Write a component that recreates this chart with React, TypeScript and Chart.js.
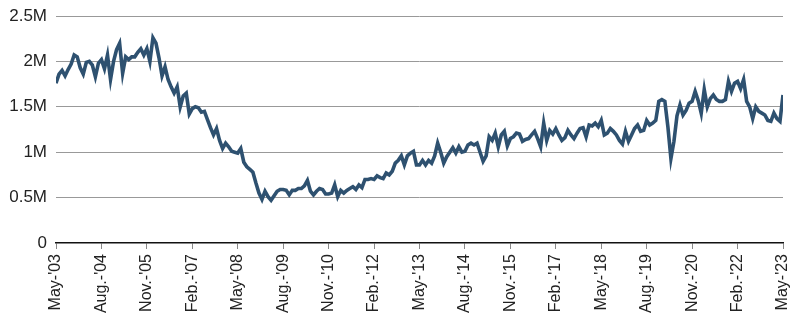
import React, { useEffect, useRef } from "react";
import { Chart, registerables } from "chart.js";

Chart.register(...registerables);

// Monthly values (millions), May 2003 – May 2023
const values: number[] = [
  1.76, 1.86, 1.90, 1.84, 1.91, 1.97, 2.07, 2.05, 1.93, 1.86,
  1.99, 2.00, 1.96, 1.83, 1.98, 2.02, 1.92, 2.07, 1.80, 2.00,
  2.13, 2.20, 1.87, 2.05, 2.02, 2.05, 2.05, 2.10, 2.14, 2.07,
  2.14, 2.00, 2.26, 2.20, 2.04, 1.84, 1.94, 1.80, 1.72, 1.65,
  1.72, 1.50, 1.62, 1.65, 1.42, 1.48, 1.50, 1.49, 1.44, 1.45,
  1.36, 1.27, 1.19, 1.26, 1.13, 1.04, 1.10, 1.06, 1.01, 1.00,
  0.99, 1.04, 0.89, 0.84, 0.81, 0.78, 0.66, 0.55, 0.48, 0.57,
  0.51, 0.47, 0.52, 0.57, 0.59, 0.59, 0.58, 0.53, 0.58, 0.58,
  0.60, 0.60, 0.63, 0.69, 0.57, 0.53, 0.57, 0.60, 0.59, 0.54,
  0.54, 0.55, 0.64, 0.51, 0.58, 0.55, 0.58, 0.60, 0.62, 0.59,
  0.64, 0.61, 0.70, 0.70, 0.71, 0.70, 0.74, 0.72, 0.71, 0.77,
  0.75, 0.79, 0.88, 0.91, 0.96, 0.86, 0.96, 0.99, 1.01, 0.86,
  0.86, 0.91, 0.86, 0.91, 0.88, 0.96, 1.10, 1.00, 0.88, 0.95,
  1.00, 1.05, 0.99, 1.06, 1.00, 1.01, 1.08, 1.10, 1.08, 1.10,
  1.00, 0.90, 0.96, 1.17, 1.13, 1.21, 1.06, 1.19, 1.23, 1.07,
  1.15, 1.17, 1.21, 1.20, 1.12, 1.14, 1.15, 1.19, 1.23, 1.15,
  1.06, 1.32, 1.13, 1.24, 1.20, 1.26, 1.19, 1.13, 1.16, 1.24,
  1.19, 1.15, 1.21, 1.26, 1.27, 1.17, 1.30, 1.29, 1.32, 1.28,
  1.35, 1.19, 1.21, 1.26, 1.23, 1.19, 1.13, 1.09, 1.23, 1.12,
  1.19, 1.26, 1.30, 1.23, 1.24, 1.35, 1.30, 1.32, 1.35, 1.56,
  1.58, 1.56, 1.28, 0.93, 1.12, 1.40, 1.52, 1.41, 1.46, 1.54,
  1.56, 1.67, 1.57, 1.43, 1.69, 1.50, 1.59, 1.63, 1.58, 1.56,
  1.56, 1.58, 1.78, 1.67, 1.76, 1.78, 1.70, 1.80, 1.56, 1.50,
  1.37, 1.50, 1.45, 1.43, 1.41, 1.35, 1.34, 1.43, 1.37, 1.34,
  1.63,
];

// One tick label every 15 months
const tickLabels: string[] = [
  "May-'03", "Aug.-'04", "Nov.-'05", "Feb.-'07", "May-'08", "Aug.-'09",
  "Nov.-'10", "Feb.-'12", "May-'13", "Aug.-'14", "Nov.-'15", "Feb.-'17",
  "May-'18", "Aug.-'19", "Nov.-'20", "Feb.-'22", "May-'23",
];
const tickStep = 15;

const yTicks: number[] = [0, 0.5, 1, 1.5, 2, 2.5];

export default function App() {
  const ref = useRef<HTMLCanvasElement>(null);

  useEffect(() => {
    document.body.style.margin = "0";
    const ctx = ref.current!;
    const chart = new Chart(ctx, {
      type: "line",
      data: {
        datasets: [
          {
            data: values.map((v, i) => ({ x: i, y: v })),
            borderColor: "#2E5170",
            borderWidth: 3.6,
            pointRadius: 0,
            tension: 0,
            fill: false,
          },
        ],
      },
      options: {
        animation: false,
        responsive: false,
        maintainAspectRatio: false,
        layout: { padding: { top: 16, right: 17, bottom: 0, left: 0 } },
        plugins: { legend: { display: false }, tooltip: { enabled: false } },
        scales: {
          x: {
            type: "linear",
            min: 0,
            max: values.length - 1,
            afterBuildTicks: (scale: any) => {
              scale.ticks = tickLabels.map((_, i) => ({ value: i * tickStep }));
            },
            afterFit: (scale: any) => {
              scale.height = 82;
              scale.paddingLeft = 0;
              scale.paddingRight = 0;
            },
            ticks: {
              autoSkip: false,
              maxRotation: 90,
              minRotation: 90,
              padding: 5,
              color: "#222",
              font: { family: "'Liberation Sans', Arial, sans-serif", size: 16 },
              callback: (v: any) => tickLabels[Math.round(Number(v) / tickStep)] ?? "",
            },
            grid: {
              drawOnChartArea: false,
              drawTicks: true,
              tickLength: 6,
              color: "#888",
              lineWidth: 1,
            },
            border: { display: true, color: "#111", width: 1.5 },
          },
          y: {
            min: 0,
            max: 2.5,
            afterBuildTicks: (scale: any) => {
              scale.ticks = yTicks.map((v) => ({ value: v }));
            },
            afterFit: (scale: any) => {
              scale.width = 56;
              scale.paddingTop = 0;
              scale.paddingBottom = 0;
            },
            ticks: {
              color: "#222",
              padding: 9,
              font: { family: "'Liberation Sans', Arial, sans-serif", size: 17 },
              callback: (v: any) => (Number(v) === 0 ? "0" : `${v}M`),
            },
            grid: {
              drawTicks: false,
              color: (c: any) => (c.tick && c.tick.value === 0 ? "rgba(0,0,0,0)" : "#999"),
              lineWidth: 1,
            },
            border: { display: false },
          },
        },
      },
    });
    return () => chart.destroy();
  }, []);

  return (
    <div style={{ position: "fixed", left: 0, top: 0, width: 800, height: 325 }}>
      <canvas ref={ref} width={800} height={325} style={{ width: 800, height: 325 }} />
    </div>
  );
}
